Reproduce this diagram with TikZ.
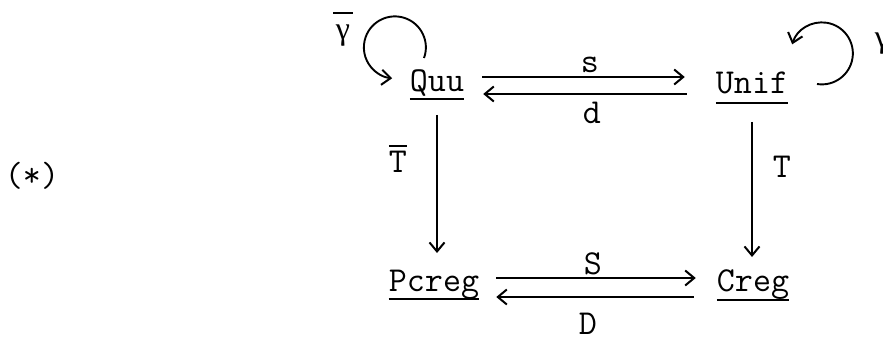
\documentclass[tikz,border=0pt]{standalone}
\usepackage{fontspec}
\newfontfamily\grk{Liberation Serif}
\usetikzlibrary{arrows.meta,calc}
\begin{document}
\begin{tikzpicture}[x=1pt,y=-1pt,
  font=\ttfamily\fontsize{35}{40}\selectfont,
  arr/.style={-{Straight Barb[length=9pt,width=15pt,line width=2pt]}, line width=1.9pt},
  ul/.style={line width=1.5pt},
  bar/.style={line width=1.8pt},
  obj/.style={inner sep=0pt, anchor=base},
  lbl/.style={inner sep=0pt},
  gk/.style={inner sep=0pt, font=\grk\fontsize{32}{36}\selectfont}]
\useasboundingbox (0,0) rectangle (883,342);
\clip (0,0) rectangle (883,342);
% objects
\node[obj] (Q) at (437,92) {Quu};
\node[obj] (U) at (752,94) {Unif};
\node[obj] (P) at (434,291) {Pcreg};
\node[obj] (C) at (753,291) {Creg};
% underlines
\draw[ul] ([yshift=-7pt]Q.base west) -- ([yshift=-7pt]Q.base east);
\draw[ul] ([yshift=-9pt]U.base west) -- ([yshift=-9pt]U.base east);
\draw[ul] ([yshift=-8pt]P.base west) -- ([yshift=-8pt]P.base east);
\draw[ul] ([yshift=-9pt]C.base west) -- ([yshift=-9pt]C.base east);
% top arrows
\draw[arr] ($(Q.base east)+(18,-15)$) -- ($(U.base west)+(-31,-17)$);
\draw[arr] ($(U.base west)+(-29,0)$) -- ($(Q.base east)+(19,2)$);
% bottom arrows
\draw[arr] ($(P.base east)+(17,-13)$) -- ($(C.base west)+(-21,-13)$);
\draw[arr] ($(C.base west)+(-23,6)$) -- ($(P.base east)+(17,6)$);
% vertical arrows
\draw[arr] ($(Q.base)+(0,23)$) -- ($(Q.base |- P.base)+(0,-38)$);
\draw[arr] ($(U.base)+(0,28)$) -- ($(U.base |- C.base)+(0,-34)$);
% loops
\coordinate (lq) at ($(Q.base)+(-13,-34)$);
\draw[arr] (lq) arc[start angle=-20, end angle=265, radius=31pt];
\coordinate (ru) at ($(U.base)+(65,-10)$);
\draw[arr] (ru) arc[start angle=-99, end angle=163, radius=31pt];
% labels
\node[lbl] (ls) at (590,65) {s};
\node[lbl] (ld) at (592,113) {d};
\node[lbl] (lS) at (593,264) {S};
\node[lbl] (lD) at (588,324) {D};
\node[lbl] (lTb) at (398,162) {T};
\draw[bar] ([yshift=5pt]lTb.north west) -- ([yshift=5pt]lTb.north east);
\node[lbl] (lT) at (782,167) {T};
\node[gk] (lgb) at (343,36) {γ};
\draw[bar] (333,13) -- (353,13);
\node[gk] (lg) at (882,44) {γ};
\node[lbl] (star) at (32,176) {(*)};
\end{tikzpicture}
\end{document}
